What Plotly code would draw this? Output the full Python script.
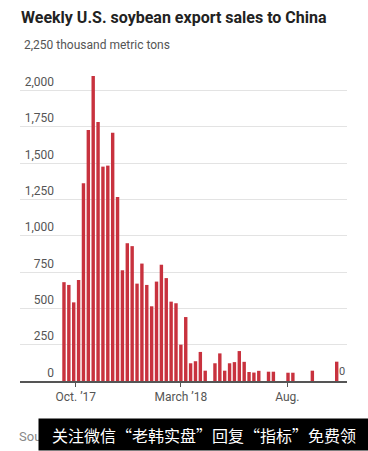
import pandas as pd
import plotly.graph_objects as go

# ---- data ----
week_start = "2017-09-14"
sales = [680, 661, 541, 695, 1360, 1727, 2099, 1782, 1475, 1482, 1709, 1266,
         762, 948, 928, 670, 808, 661, 514, 684, 800, 708, 546, 535,
         250, 440, 122, 136, 200, 71, 0, 122, 190, 71, 122, 130,
         206, 132, 62, 58, 70, 0, 64, 64, 0, 0, 57, 57,
         0, 0, 0, 71, 0, 0, 0, 0, 133, 0]
weeks = pd.date_range(week_start, periods=len(sales), freq="7D")

y_ticks = [0, 250, 500, 750, 1000, 1250, 1500, 1750, 2000]
y_top = 2250
y_top_label = "2,250 thousand metric tons"
x_tick_dates = ["2017-10-01", "2018-03-01", "2018-08-01"]
x_tick_text = ["Oct. ’17", "March ’18", "Aug."]

title = "Weekly U.S. soybean export sales to China"
source = "Source: U.S. Department of Agriculture"
banner = "关注微信“老韩实盘”回复“指标”免费领"

FONT = "Roboto, sans-serif"
BAR = "#c8323e"
GRID = "#e3e3e3"
TXT = "#555555"

fig = go.Figure()
fig.add_trace(go.Bar(x=weeks, y=sales, marker=dict(color=BAR, line=dict(width=0)),
                     hoverinfo="x+y", showlegend=False))
# helper (invisible) trace so the label axis is drawn
fig.add_trace(go.Scatter(x=[weeks[0]], y=[0], yaxis="y2", mode="markers",
                         marker=dict(opacity=0), hoverinfo="skip", showlegend=False))

W, H = 368, 451
L, R, T, B = 20, 21, 54, 70
PW, PH = W - L - R, H - T - B


def px(x):
    return (x - L) / PW


def py(y):
    return (H - B - y) / PH


fig.update_layout(
    width=W, height=H,
    margin=dict(l=L, r=R, t=T, b=B, pad=0),
    paper_bgcolor="white", plot_bgcolor="white",
    bargap=0.3,
    showlegend=False,
    xaxis=dict(
        type="date",
        range=["2017-07-12 19:00", "2018-10-25 19:00"],
        tickvals=x_tick_dates, ticktext=x_tick_text,
        ticks="outside", ticklen=4, tickwidth=1, tickcolor="#555555",
        showline=True, linecolor="#555555", linewidth=1.5,
        showgrid=False, zeroline=False,
        tickfont=dict(family=FONT, size=12, color=TXT),
    ),
    yaxis=dict(
        range=[0, y_top],
        tickvals=y_ticks + [y_top],
        showticklabels=False,
        showgrid=True, gridcolor=GRID, gridwidth=1,
        zeroline=False, showline=False, ticks="",
    ),
    yaxis2=dict(
        overlaying="y", anchor="free", position=px(54), side="left",
        range=[0, y_top],
        tickvals=y_ticks, tickformat=",",
        ticklabelposition="outside top",
        showgrid=False, zeroline=False, showline=False, ticks="",
        tickfont=dict(family=FONT, size=12, color=TXT),
    ),
    annotations=[
        dict(text="<b>" + title + "</b>", xref="paper", yref="paper",
             x=px(19), y=py(17),
             xanchor="left", yanchor="middle", showarrow=False,
             font=dict(family=FONT, size=16, color="#222222")),
        dict(text=y_top_label, xref="paper", yref="y",
             x=px(22), y=y_top, xanchor="left", yanchor="bottom",
             yshift=0, showarrow=False,
             font=dict(family=FONT, size=12, color=TXT)),
        dict(text=str(sales[-1]), xref="x", yref="y", x=weeks[-1], y=0,
             xanchor="center", yanchor="bottom", yshift=1, showarrow=False,
             font=dict(family=FONT, size=11, color=TXT)),
        dict(text=source, xref="paper", yref="paper",
             x=px(17), y=py(436),
             xanchor="left", yanchor="middle", showarrow=False,
             font=dict(family=FONT, size=13, color="#888888")),
        dict(text=banner, xref="paper", yref="paper",
             x=px(38), y=py(451),
             xanchor="left", yanchor="bottom", showarrow=False,
             width=330, height=31, bgcolor="#000000", borderpad=0,
             align="center",
             font=dict(family="Noto Sans CJK SC", size=16, color="#ffffff")),
    ],
)

fig.write_html("out.html", config={"displayModeBar": False},
               post_script="document.body.style.margin='0';")
